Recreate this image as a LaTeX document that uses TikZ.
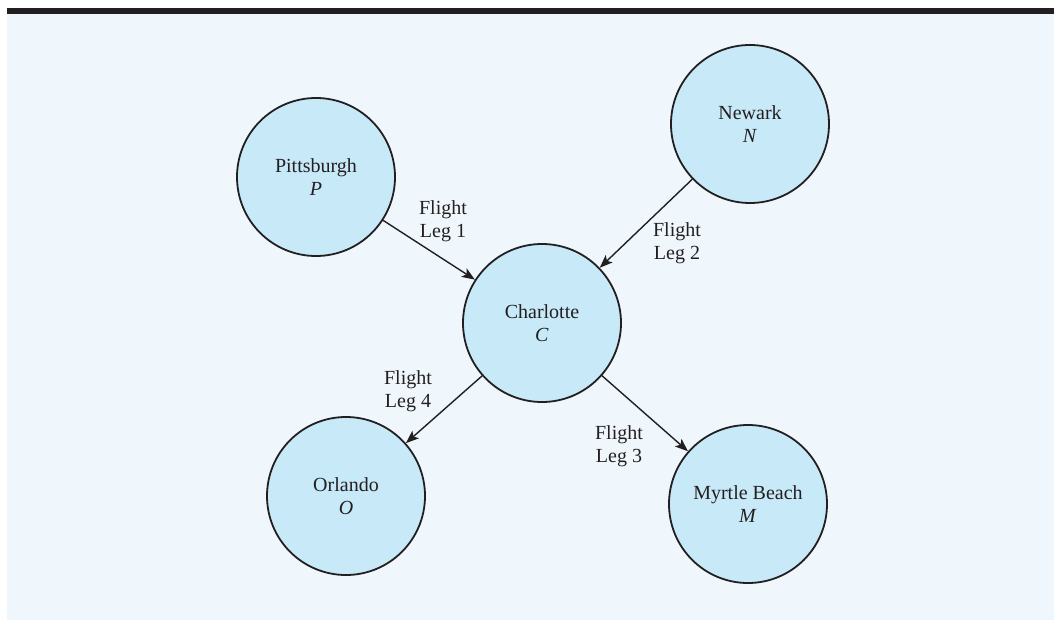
\documentclass[tikz,border=0pt]{standalone}
\usepackage{fontspec}
\setmainfont{Liberation Serif}
\usetikzlibrary{arrows.meta}
\definecolor{bgblue}{HTML}{EFF7FD}
\definecolor{nodeblue}{HTML}{C7E9F8}
\definecolor{inkdark}{HTML}{231F20}
\tikzset{
  city/.style={circle, draw=inkdark, line width=1.8pt, fill=nodeblue, minimum size=158pt, inner sep=0pt, align=center, font=\fontsize{20}{23}\selectfont, text=inkdark},
  leglabel/.style={align=center, font=\fontsize{20}{23}\selectfont, text=inkdark, inner sep=0pt},
  flightarrow/.style={draw=inkdark, line width=1.4pt, -{Stealth[length=13pt, width=10pt, inset=3pt]}}
}
\begin{document}
\begin{tikzpicture}[x=1pt,y=-1pt]
\useasboundingbox (0,0) rectangle (1054,620);
\fill[bgblue] (7,14) rectangle (1054,620);
\fill[inkdark] (7,8) rectangle (1054,14);
\node[city] (P) at (316,177) {Pittsburgh\\\textit{P}};
\node[city] (N) at (750,124) {Newark\\\textit{N}};
\node[city] (C) at (542,323) {Charlotte\\\textit{C}};
\node[city] (O) at (346,496) {Orlando\\\textit{O}};
\node[city] (M) at (748,504) {Myrtle Beach\\\textit{M}};
\draw[flightarrow] (P) -- (C);
\draw[flightarrow] (N) -- (C);
\draw[flightarrow] (C) -- (M);
\draw[flightarrow] (C) -- (O);
\node[leglabel] (L1) at (443,221) {Flight\\Leg 1};
\node[leglabel] (L2) at (677,243) {Flight\\Leg 2};
\node[leglabel] (L3) at (619,446) {Flight\\Leg 3};
\node[leglabel] (L4) at (408,391) {Flight\\Leg 4};
\end{tikzpicture}
\end{document}
